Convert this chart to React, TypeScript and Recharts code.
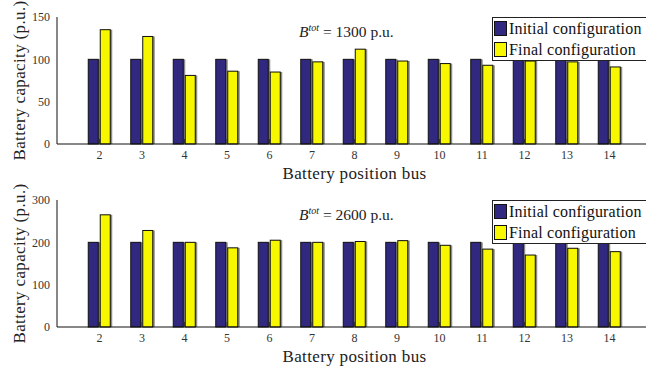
import { BarChart, Bar, XAxis, YAxis, Legend } from 'recharts';

// Battery sizing per bus, two total-capacity cases
const buses = [2, 3, 4, 5, 6, 7, 8, 9, 10, 11, 12, 13, 14];
const initial1300 = [100, 100, 100, 100, 100, 100, 100, 100, 100, 100, 100, 100, 100];
const final1300 = [135, 127, 81, 86, 85, 97, 112, 98, 95, 93, 98, 97, 91];
const initial2600 = [200, 200, 200, 200, 200, 200, 200, 200, 200, 200, 200, 200, 200];
const final2600 = [265, 228, 200, 187, 205, 200, 202, 204, 193, 184, 170, 186, 178];

const ticks1300 = [0, 50, 100, 150];
const ticks2600 = [0, 100, 200, 300];

const seriesNames = ['Initial configuration', 'Final configuration'];

const FONT = '"Liberation Serif", serif';
const NAVY = '#31297f';
const YELLOW = '#f7f700';

const toRows = (initial: number[], final: number[]) =>
  buses.map((bus, i) => ({ bus, initial: initial[i], final: final[i] }));

// bar with a thin grey drop shadow on its right edge
const ShadowBar = (props: any) => {
  const { x, y, width, height, fill } = props;
  if (!height || height <= 0) return null;
  return (
    <g>
      <rect x={x + 2} y={y} width={width} height={height} fill="#8a8a8a" />
      <rect x={x} y={y} width={width} height={height} fill={fill} stroke="#111" strokeWidth={1} />
    </g>
  );
};

// inward tick marks with the label below the axis
const BottomTick = (props: any) => {
  const { x, y, payload } = props;
  return (
    <g>
      <line x1={x} y1={y} x2={x} y2={y - 5} stroke="#333" strokeWidth={1} />
      <text x={x} y={y + 15} textAnchor="middle" fontSize={12} fill="#333" fontFamily={FONT}>
        {payload.value}
      </text>
    </g>
  );
};

const TopTick = (props: any) => {
  const { x, y } = props;
  return <line x1={x} y1={y} x2={x} y2={y + 5} stroke="#333" strokeWidth={1} />;
};

const LegendBox = ({ payload }: any) => {
  const items = [...(payload || [])].sort(
    (a: any, b: any) => seriesNames.indexOf(a.value) - seriesNames.indexOf(b.value)
  );
  return (
    <div
      style={{
        border: '1px solid #222',
        background: '#fff',
        padding: '0 14px 0 1px',
        fontFamily: FONT,
        fontSize: 16,
        letterSpacing: 0.2,
        lineHeight: '21px',
        color: '#111',
        whiteSpace: 'nowrap',
      }}
    >
      {items.map((entry: any) => (
        <div key={entry.value} style={{ display: 'flex', alignItems: 'center' }}>
          <span
            style={{
              display: 'inline-block',
              width: 11,
              height: 13,
              background: entry.color,
              border: '1px solid #111',
              marginRight: 2,
            }}
          />
          {entry.value}
        </div>
      ))}
    </div>
  );
};

interface PanelProps {
  initial: number[];
  final: number[];
  yTicks: number[];
  total: number;
}

const Panel = ({ initial, final, yTicks, total }: PanelProps) => (
  <div style={{ position: 'relative', width: 660, height: 183 }}>
    <BarChart
      width={660}
      height={183}
      data={toRows(initial, final)}
      margin={{ top: 17, right: 8, left: 0, bottom: 0 }}
      barGap={2}
    >
      <XAxis
        dataKey="bus"
        type="number"
        domain={[1, 15]}
        ticks={buses}
        allowDataOverflow
        height={39}
        stroke="#111"
        tickSize={0}
        tickMargin={0}
        tickLine={false}
        tick={<BottomTick />}
        label={{
          value: 'Battery position bus',
          position: 'insideBottom',
          offset: 4,
          style: { fontFamily: FONT, fontSize: 17, letterSpacing: 0.35, fill: '#222' },
        }}
      />
      <XAxis
        xAxisId="top"
        orientation="top"
        dataKey="bus"
        type="number"
        domain={[1, 15]}
        ticks={buses}
        allowDataOverflow
        height={0}
        stroke="#111"
        tickSize={0}
        tickMargin={0}
        tickLine={false}
        tick={<TopTick />}
      />
      <YAxis
        width={57}
        domain={[yTicks[0], yTicks[yTicks.length - 1]]}
        ticks={yTicks}
        stroke="#111"
        tickLine={false}
        tickSize={0}
        tickMargin={7}
        tick={{ fontSize: 12, fill: '#333', fontFamily: FONT }}
        label={{
          value: 'Battery capacity (p.u.)',
          angle: -90,
          position: 'insideLeft',
          offset: 19,
          style: { fontFamily: FONT, fontSize: 17, letterSpacing: 0.35, fill: '#222', textAnchor: 'middle' },
        }}
      />
      <Legend
        layout="vertical"
        align="center"
        verticalAlign="middle"
        wrapperStyle={{ left: 492, top: 17, width: 'auto' }}
        content={<LegendBox />}
      />
      <Bar
        dataKey="initial"
        name={seriesNames[0]}
        fill={NAVY}
        barSize={10}
        shape={<ShadowBar />}
        isAnimationActive={false}
      />
      <Bar
        dataKey="final"
        name={seriesNames[1]}
        fill={YELLOW}
        barSize={10}
        shape={<ShadowBar />}
        isAnimationActive={false}
      />
    </BarChart>
    <div
      style={{
        position: 'absolute',
        left: 299,
        top: 22,
        fontFamily: FONT,
        fontSize: 15.5,
        color: '#222',
        whiteSpace: 'nowrap',
      }}
    >
      <i>B</i>
      <sup style={{ fontSize: 10, fontStyle: 'italic' }}>tot</sup> = {total} p.u.
    </div>
  </div>
);

export default function App() {
  return (
    <div
      style={{
        position: 'absolute',
        left: 0,
        top: 0,
        width: 646,
        height: 366,
        overflow: 'hidden',
        background: '#fff',
      }}
    >
      <Panel initial={initial1300} final={final1300} yTicks={ticks1300} total={1300} />
      <Panel initial={initial2600} final={final2600} yTicks={ticks2600} total={2600} />
    </div>
  );
}
